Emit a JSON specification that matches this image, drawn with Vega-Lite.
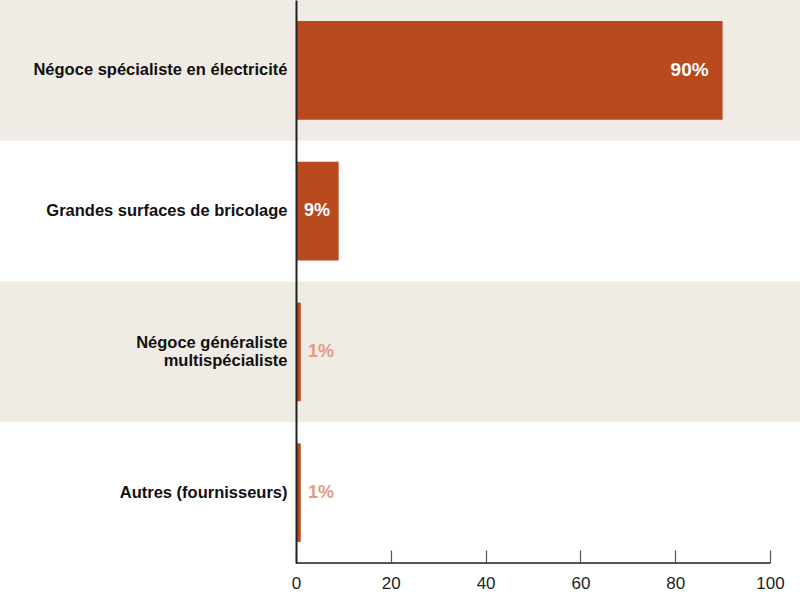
{
  "$schema": "https://vega.github.io/schema/vega-lite/v6.json",
  "width": 800,
  "height": 563,
  "autosize": "none",
  "padding": {"top": 0, "left": 0, "right": 0, "bottom": 31},
  "background": "#ffffff",
  "config": {
    "view": {"stroke": null},
    "font": "Liberation Sans"
  },
  "data": {
    "values": [
      {"canal": "Négoce spécialiste en électricité", "part": 90, "label": "90%"},
      {"canal": "Grandes surfaces de bricolage", "part": 9, "label": "9%"},
      {"canal": "Négoce généraliste|multispécialiste", "part": 1, "label": "1%"},
      {"canal": "Autres (fournisseurs)", "part": 1, "label": "1%"}
    ]
  },
  "transform": [
    {"window": [{"op": "row_number", "as": "rang"}]}
  ],
  "encoding": {
    "y": {
      "field": "canal",
      "type": "nominal",
      "sort": null,
      "title": null,
      "scale": {"paddingInner": 0, "paddingOuter": 0},
      "axis": {
        "offset": -296,
        "zindex": 1,
        "ticks": false,
        "domainColor": "#222222",
        "domainWidth": 2,
        "labelPadding": 9,
        "labelFont": "Liberation Sans",
        "labelFontWeight": "bold",
        "labelFontSize": 16.5,
        "labelColor": "#111111",
        "labelLineHeight": 18,
        "labelLimit": 400,
        "labelOffset": {
          "condition": {"test": "indexof(datum.label, '|') >= 0", "value": -9},
          "value": 0
        },
        "labelExpr": "split(datum.label, '|')"
      }
    }
  },
  "layer": [
    {
      "mark": {"type": "rect"},
      "encoding": {
        "x": {"value": 0},
        "x2": {"value": "width"},
        "fill": {
          "condition": {"test": "datum.rang % 2 == 1", "value": "#f0ebe5"},
          "value": "#ffffff"
        }
      }
    },
    {
      "mark": {"type": "bar", "height": {"band": 0.7}, "color": "#b84a1e"},
      "encoding": {
        "x": {
          "field": "part",
          "type": "quantitative",
          "title": null,
          "scale": {"domain": [-62.45, 106.33], "nice": false, "zero": false},
          "axis": {
            "values": [0, 20, 40, 60, 80, 100],
            "zindex": 1,
            "domain": false,
            "grid": false,
            "tickSize": -13,
            "tickColor": "#555555",
            "tickWidth": 1.2,
            "labelPadding": 25,
            "labelFontSize": 17,
            "labelColor": "#222222",
            "labelFont": "Liberation Sans"
          }
        }
      }
    },
    {
      "mark": {"type": "rule", "color": "#555555", "strokeWidth": 1.5},
      "encoding": {
        "x": {"datum": 0},
        "x2": {"datum": 100},
        "y": {"value": "height"}
      }
    },
    {
      "transform": [{"filter": "datum.part > 50"}],
      "mark": {"type": "text", "align": "right", "baseline": "middle", "dx": -14, "fontSize": 19, "fontWeight": "bold", "color": "#ffffff"},
      "encoding": {
        "x": {"field": "part", "type": "quantitative"},
        "text": {"field": "label"}
      }
    },
    {
      "transform": [{"filter": "datum.part <= 50 && datum.part >= 5"}],
      "mark": {"type": "text", "align": "left", "baseline": "middle", "dx": 8, "fontSize": 18, "fontWeight": "bold", "color": "#ffffff"},
      "encoding": {
        "x": {"datum": 0},
        "text": {"field": "label"}
      }
    },
    {
      "transform": [{"filter": "datum.part < 5"}],
      "mark": {"type": "text", "align": "left", "baseline": "middle", "dx": 12, "fontSize": 18, "fontWeight": "bold", "color": "#e39c84"},
      "encoding": {
        "x": {"datum": 0},
        "text": {"field": "label"}
      }
    }
  ]
}
